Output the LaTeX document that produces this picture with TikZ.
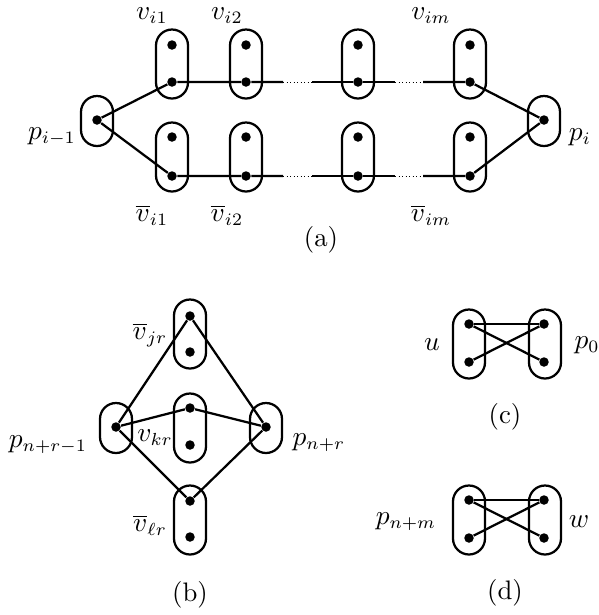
\documentclass[tikz,border=0pt]{standalone}
\begin{document}
\begin{tikzpicture}[x=0.4pt,y=-0.4pt,
  oval/.style={draw, line width=0.9pt, rounded corners=6.4pt, minimum width=12.8pt, minimum height=27.6pt, inner sep=0pt},
  poval/.style={oval, minimum height=20pt},
  dot/.style={circle, fill, inner sep=0pt, minimum size=3.8pt},
  edge/.style={line width=0.9pt},
  dotline/.style={line width=0.35pt, dash pattern=on 0.35pt off 1.05pt},
  lab/.style={inner sep=0pt, font=\fontsize{10.7}{13}\selectfont}]
\useasboundingbox (0,0) rectangle (599,615);
% ---------- (a)
\foreach \n/\x in {1/172,2/246,3/358,4/470} {
  \node[oval] (T\n) at (\x,64) {};
  \node[dot] (Tu\n) at (\x,45) {};
  \node[dot] (Tl\n) at (\x,82) {};
  \node[oval] (B\n) at (\x,157) {};
  \node[dot] (Bu\n) at (\x,137) {};
  \node[dot] (Bl\n) at (\x,176) {};
}
\node[poval] (PL) at (97,121) {};
\node[dot] (pl) at (97,120) {};
\node[poval] (PR) at (544,121) {};
\node[dot] (pr) at (544,120) {};
\coordinate (ta) at (283,82); \coordinate (tb) at (312,82);
\coordinate (tc) at (395,82); \coordinate (td) at (423,82);
\coordinate (ba) at (283,176); \coordinate (bb) at (312,176);
\coordinate (bc) at (395,176); \coordinate (bd) at (423,176);
\draw[edge] (pl) -- (Tl1) -- (Tl2) -- (ta);
\draw[edge] (tb) -- (Tl3) -- (tc);
\draw[edge] (td) -- (Tl4) -- (pr);
\draw[edge] (pl) -- (Bl1) -- (Bl2) -- (ba);
\draw[edge] (bb) -- (Bl3) -- (bc);
\draw[edge] (bd) -- (Bl4) -- (pr);
\draw[dotline] (ta) -- (tb); \draw[dotline] (tc) -- (td);
\draw[dotline] (ba) -- (bb); \draw[dotline] (bc) -- (bd);
\node[lab] (l1) at (152,16) {$v_{i1}$};
\node[lab] (l2) at (227,16) {$v_{i2}$};
\node[lab] (l3) at (431,16) {$v_{im}$};
\node[lab] (l4) at (152,215) {$\overline{v}_{i1}$};
\node[lab] (l5) at (227,215) {$\overline{v}_{i2}$};
\node[lab] (l6) at (431,215) {$\overline{v}_{im}$};
\node[lab] (l7) at (52,137) {$p_{i-1}$};
\node[lab] (l8) at (580,137) {$p_{i}$};
\node[lab] (ca) at (321,240) {(a)};
% ---------- (b)
\node[oval] (BT) at (190,334) {};
\node[dot] (btu) at (190,316) {};
\node[dot] (btl) at (190,352) {};
\node[oval] (BM) at (190,428) {};
\node[dot] (bmu) at (190,408) {};
\node[dot] (bml) at (190,445) {};
\node[oval] (BB) at (190,520) {};
\node[dot] (bbu) at (190,501) {};
\node[dot] (bbl) at (190,537) {};
\node[poval] (BPL) at (116,428) {};
\node[dot] (bpl) at (116,427) {};
\node[poval] (BPR) at (266,428) {};
\node[dot] (bpr) at (266,427) {};
\draw[edge] (bpl) -- (btu) -- (bpr);
\draw[edge] (bpl) -- (bmu) -- (bpr);
\draw[edge] (bpl) -- (bbu) -- (bpr);
\node[lab] (m1) at (150,335) {$\overline{v}_{jr}$};
\node[lab] (m2) at (155,438) {$v_{kr}$};
\node[lab] (m3) at (150,525) {$\overline{v}_{\ell r}$};
\node[lab] (m4) at (48,445) {$p_{n+r-1}$};
\node[lab] (m5) at (319,443) {$p_{n+r}$};
\node[lab] (cb) at (190,595) {(b)};
% ---------- (c)
\node[oval] (CL) at (469,344) {};
\node[dot] (clu) at (469,324) {};
\node[dot] (cll) at (469,362) {};
\node[oval] (CR) at (545,344) {};
\node[dot] (cru) at (544,324) {};
\node[dot] (crl) at (544,362) {};
\draw[edge] (clu) -- (cru);
\draw[edge] (clu) -- (crl);
\draw[edge] (cll) -- (cru);
\node[lab] (u) at (432,345) {$u$};
\node[lab] (p0) at (587,345) {$p_0$};
\node[lab] (cc) at (505,417) {(c)};
% ---------- (d)
\node[oval] (DL) at (469,520) {};
\node[dot] (dlu) at (469,500) {};
\node[dot] (dll) at (469,538) {};
\node[oval] (DR) at (545,520) {};
\node[dot] (dru) at (544,500) {};
\node[dot] (drl) at (544,538) {};
\draw[edge] (dlu) -- (dru);
\draw[edge] (dlu) -- (drl);
\draw[edge] (dll) -- (dru);
\node[lab] (pm) at (406,522) {$p_{n+m}$};
\node[lab] (w) at (579,522) {$w$};
\node[lab] (cd) at (505,593) {(d)};
\end{tikzpicture}
\end{document}
